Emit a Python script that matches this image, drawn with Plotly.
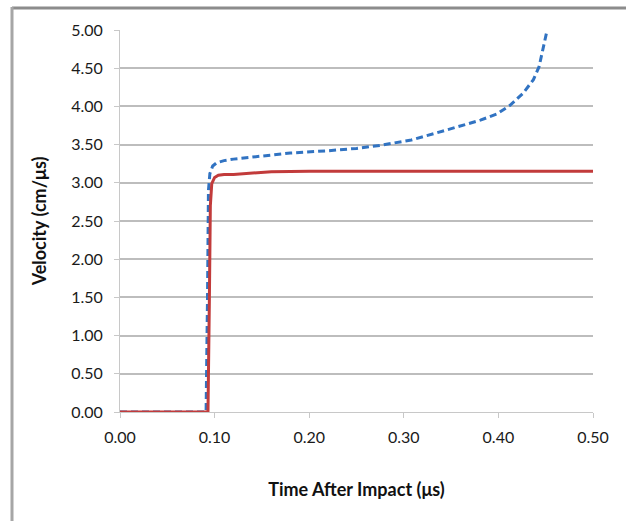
import plotly.graph_objects as go

# Data
red_t = [0.0, 0.093, 0.0945, 0.0955, 0.097, 0.100, 0.104, 0.110, 0.120, 0.130, 0.140, 0.150, 0.160, 0.200, 0.250, 0.300, 0.400, 0.500]
red_v = [0.0, 0.0, 1.5, 2.7, 2.99, 3.07, 3.10, 3.11, 3.11, 3.12, 3.13, 3.14, 3.145, 3.15, 3.15, 3.15, 3.15, 3.15]

blue_t = [0.0, 0.091, 0.0925, 0.0935, 0.095, 0.098, 0.102, 0.110, 0.120, 0.144, 0.180, 0.220, 0.250, 0.275, 0.308, 0.345, 0.381, 0.398, 0.412, 0.426, 0.437, 0.443, 0.447, 0.451]
blue_v = [0.0, 0.0, 1.5, 2.9, 3.12, 3.22, 3.26, 3.29, 3.31, 3.34, 3.39, 3.42, 3.45, 3.49, 3.56, 3.69, 3.82, 3.90, 4.01, 4.17, 4.35, 4.52, 4.74, 4.97]

x_ticks = [0.0, 0.1, 0.2, 0.3, 0.4, 0.5]
y_ticks = [0.0, 0.5, 1.0, 1.5, 2.0, 2.5, 3.0, 3.5, 4.0, 4.5, 5.0]

fig = go.Figure()
fig.add_trace(go.Scatter(x=blue_t, y=blue_v, mode="lines",
                         line=dict(color="#3173c2", width=3, dash="7px,4px"),
                         showlegend=False))
fig.add_trace(go.Scatter(x=red_t, y=red_v, mode="lines",
                         line=dict(color="#c23b3b", width=3),
                         showlegend=False))

font_family = "Lato, 'Open Sans', sans-serif"
W, H = 626, 521
L, R, T, B = 120, 33, 30, 109
pw, ph = W - L - R, H - T - B

fig.update_layout(
    width=W, height=H,
    margin=dict(l=L, r=R, t=T, b=B),
    paper_bgcolor="white", plot_bgcolor="white",
    font=dict(family=font_family, color="#1a1a1a"),
    xaxis=dict(
        range=[0, 0.5], tickvals=x_ticks, ticktext=[f"{v:.2f}" for v in x_ticks],
        showgrid=False, zeroline=False, showline=True, linecolor="#c8c8c8", linewidth=1,
        ticks="outside", ticklen=5, tickcolor="#c8c8c8",
        tickfont=dict(size=16, color="#1a1a1a"), ticklabelstandoff=6,
        title=dict(text="<b>Time After Impact (μs)</b>", font=dict(size=18, color="#111"), standoff=38),
    ),
    yaxis=dict(
        range=[0, 5], tickvals=y_ticks, ticktext=[f"{v:.2f}" for v in y_ticks],
        showgrid=True, gridcolor="#bdbdbd", gridwidth=1.5, zeroline=False,
        showline=True, linecolor="#c8c8c8", linewidth=1,
        ticks="outside", ticklen=5, tickcolor="#c8c8c8",
        tickfont=dict(size=16, color="#1a1a1a"), ticklabelstandoff=8,
        title=dict(text="<b>Velocity (cm/μs)</b>", font=dict(size=18, color="#111"), standoff=19),
    ),
    shapes=[
        dict(type="line", xref="paper", yref="paper",
             x0=(12 - L) / pw, x1=(W - L) / pw,
             y0=1 + (T - 8) / ph, y1=1 + (T - 8) / ph,
             line=dict(color="#8c8c8c", width=3)),
        dict(type="line", xref="paper", yref="paper",
             x0=(12 - L) / pw, x1=(12 - L) / pw,
             y0=1 + (T - 7) / ph, y1=-(B + 5) / ph,
             line=dict(color="#a6a6a6", width=3)),
    ],
)

fig.write_html("out.html", config={"displayModeBar": False})
